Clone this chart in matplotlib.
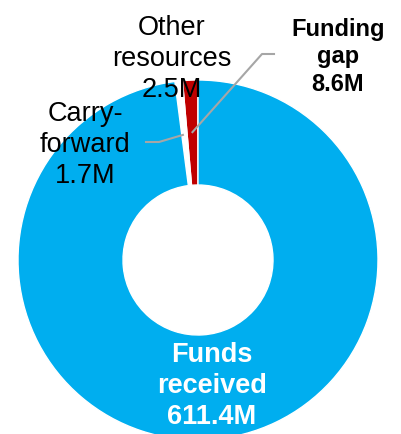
import numpy as np
import matplotlib.pyplot as plt

plt.rcParams['font.family'] = ['Liberation Sans', 'DejaVu Sans']

# slices, counterclockwise from the top
labels = ['Funding gap', 'Other resources', 'Carry-forward', 'Funds received']
values = [8.6, 2.5, 1.7, 611.4]
colors = ['#C00000', '#FFFFFF', '#FFFFFF', '#00AEEF']

W, H = 401, 435
fig = plt.figure(figsize=(W / 100, H / 100), dpi=100)
ax = fig.add_axes([0, 0, 1, 1])

cx, cy = 198, H - 261
R, r_in = 180, 75
wedges, _ = ax.pie(values, colors=colors, startangle=90, counterclock=True,
                   center=(cx, cy), radius=R, frame=True,
                   wedgeprops=dict(width=R - r_in, edgecolor='white', linewidth=1))
ax.set_xlim(0, W)
ax.set_ylim(0, H)
ax.set_aspect('equal')
ax.axis('off')


def anchor(i, rad):
    w = wedges[i]
    a = np.deg2rad((w.theta1 + w.theta2) / 2)
    return cx + rad * np.cos(a), cy + rad * np.sin(a)


grey = '#A6A6A6'
# leader for funding gap
ex, ey = anchor(0, 128)
ax.plot([274, 262, ex], [H - 55, H - 55, ey], color=grey, lw=1.5)
# leader for carry-forward
ex, ey = anchor(2, 126)
ax.plot([146, 159, ex], [H - 143, H - 143, ey], color=grey, lw=1.5)

ax.text(172, H - 59, 'Other\nresources\n2.5M', ha='center', va='center',
        fontsize=19.5, color='black', linespacing=1.27)
ax.text(85, H - 145, 'Carry-\nforward\n1.7M', ha='center', va='center',
        fontsize=19.5, color='black', linespacing=1.27)
ax.text(338, H - 57, 'Funding\ngap\n8.6M', ha='center', va='center',
        fontsize=17, fontweight='bold', color='black', linespacing=1.25)
ax.text(212, H - 386, 'Funds\nreceived\n611.4M', ha='center', va='center',
        fontsize=19.5, fontweight='bold', color='white', linespacing=1.27)

fig.savefig('out.png', dpi=100)
